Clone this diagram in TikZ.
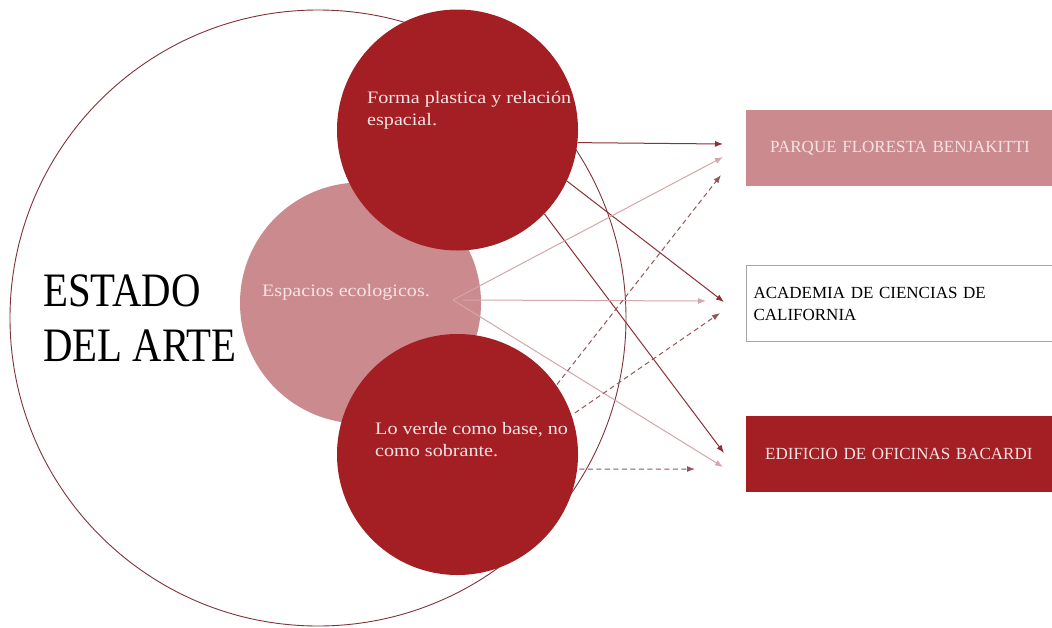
\documentclass[tikz,border=0pt]{standalone}
\usepackage{fontspec}
\setmainfont{Liberation Serif}
\newfontfamily\titfont[FakeStretch=0.85]{Liberation Serif}
\newfontfamily\circfont[FakeStretch=1.15]{Liberation Serif}
\usetikzlibrary{arrows.meta,positioning}
\definecolor{vino}{HTML}{A31F24}
\definecolor{rosa}{HTML}{CB8A8E}
\definecolor{textorosa}{HTML}{F6E4E4}
\definecolor{linea}{HTML}{7E3338}
\definecolor{flechaosc}{HTML}{8C3036}
\definecolor{flechacla}{HTML}{D4A6A9}
\definecolor{punteo}{HTML}{93565A}

\begin{document}
\begin{tikzpicture}[x=1pt,y=-1pt,>={Latex[length=8pt,width=6pt]},
      circulo/.style={circle,minimum size=241pt,inner sep=0pt},
      caja/.style={rectangle,anchor=north west,minimum height=76pt,text width=300pt,
        align=left,font=\fontsize{17}{22}\selectfont},
      textocirc/.style={anchor=north west,align=left,inner sep=0pt,text=textorosa,
        font=\circfont\fontsize{17.5}{22}\selectfont},
      oscura/.style={->,flechaosc,line width=1pt},
      clara/.style={->,flechacla,line width=1pt},
      punteada/.style={->,punteo,line width=1pt,dash pattern=on 5pt off 3.5pt}]
      \clip (0,0) rectangle (1052,627);
      \fill[white] (0,0) rectangle (1052,627);
      \node[circle,draw=linea,line width=0.9pt,minimum size=616pt,inner sep=0pt] (arte) at (318,318) {};
      \node[anchor=north west,align=left,inner sep=0pt,
        font=\titfont\fontsize{48}{55}\selectfont] (estado) at (43,275) {ESTADO\\DEL ARTE};
      \node[circulo,fill=rosa] (eco) at (360.5,303) {};
      \node[circulo,fill=vino] (forma) at (457.5,130) {};
      \node[circulo,fill=vino] (verde) at (457.5,454.5) {};
      \node[textocirc] (formatxt) at (367,91) {Forma plastica y relación\\espacial.};
      \node[textocirc] (ecotxt) at (262,284) {Espacios ecologicos.};
      \node[textocirc] (verdetxt) at (375,422) {Lo verde como base, no\\como sobrante.};
      \node[caja,fill=rosa,text=textorosa,inner xsep=24pt] (parque) at (746,110) {PARQUE FLORESTA BENJAKITTI};
      \node[caja,draw=gray!70,line width=1pt,text=black,inner xsep=7pt] (academia) at (746,265) {ACADEMIA DE CIENCIAS DE\\CALIFORNIA};
      \node[caja,fill=vino,text=textorosa,inner xsep=19pt] (bacardi) at (746,416) {EDIFICIO DE OFICINAS BACARDI};
      \coordinate (eco1) at (453,300);
      \coordinate (eco2) at (463,300);
      \coordinate (parque1) at (723,144);
      \coordinate (parque2) at (723,157);
      \coordinate (parque3) at (721,175);
      \coordinate (academia1) at (724,302);
      \coordinate (academia2) at (706,301);
      \coordinate (academia3) at (720,313);
      \coordinate (bacardi1) at (724,453);
      \coordinate (bacardi2) at (723,467);
      \coordinate (bacardi3) at (695,469);
      \draw[oscura] (forma.-6) -- (parque1);
      \draw[oscura] (forma.-25) -- (academia1);
      \draw[oscura] (forma.-44) -- (bacardi1);
      \draw[clara] (eco1) -- (parque2);
      \draw[clara] (eco2) -- (academia2);
      \draw[clara] (eco1) -- (bacardi2);
      \draw[punteada,shorten <=1pt] (verde.35) -- (parque3);
      \draw[punteada,shorten <=4pt] (verde.19) -- (academia3);
      \draw[punteada,shorten <=2pt] (verde.-7) -- (bacardi3);
\end{tikzpicture}
\end{document}
